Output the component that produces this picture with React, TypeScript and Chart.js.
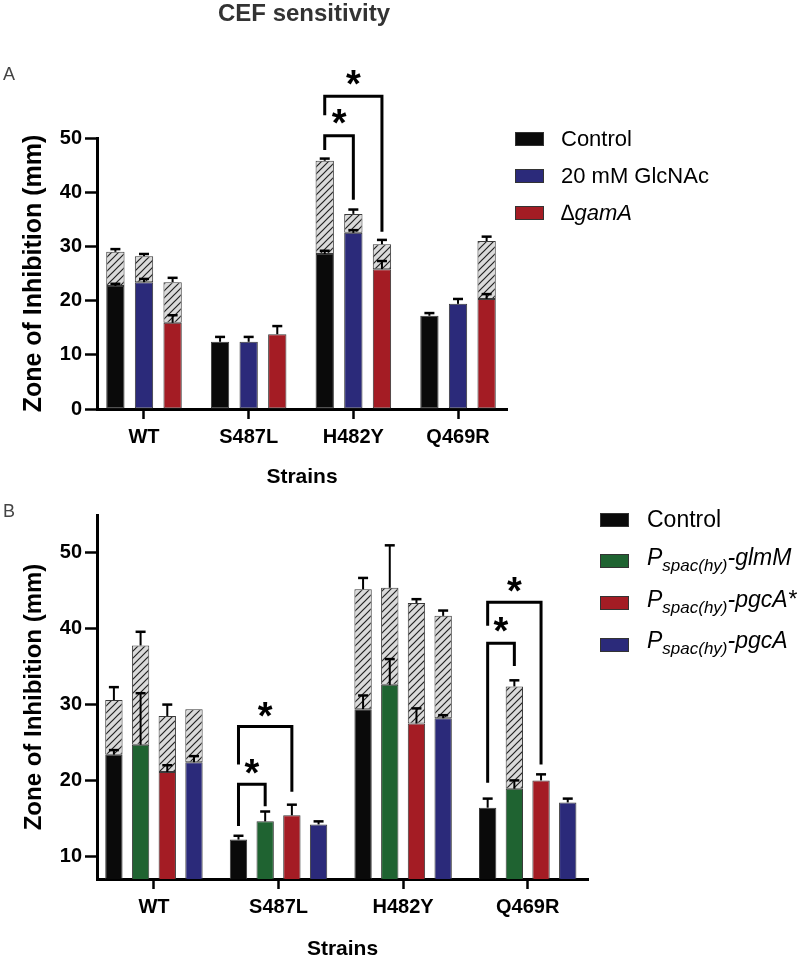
import React, { useEffect, useRef } from 'react';
import { Chart, registerables } from 'chart.js';

Chart.register(...registerables);

const FONT = '"Liberation Sans", Arial, Helvetica, sans-serif';

// ---------- Panel A data ----------
const strainsA = ['WT', 'S487L', 'H482Y', 'Q469R'];
const seriesA = ['Control', '20 mM GlcNAc', '\u2206gamA'];
const italicA = [false, false, true];
const colorsA = ['#0a0a0a', '#2b2a7a', '#a41c24'];

const aControlBase = [22.7, 12.4, 28.6, 17.2];
const aControlTotal = [29.0, null, 45.8, null];
const aControlBaseErr = [0.4, 0.9, 0.6, 0.5];
const aControlTotalErr = [0.5, null, 0.4, null];

const aGlcBase = [23.4, 12.4, 32.5, 19.4];
const aGlcTotal = [28.2, null, 36.0, null];
const aGlcBaseErr = [0.6, 0.9, 0.5, 0.9];
const aGlcTotalErr = [0.4, null, 0.8, null];

const aGamBase = [15.9, 13.8, 25.8, 20.3];
const aGamTotal = [23.4, null, 30.4, 31.0];
const aGamBaseErr = [1.4, 1.5, 1.5, 0.9];
const aGamTotalErr = [0.8, null, 0.8, 0.8];

const ticksA = [0, 10, 20, 30, 40, 50];

// brackets: category index, from/to series index, y-values (data units)
const bracketsA = [
  { cat: 2, from: 0, to: 1, top: 50.4, leftEnd: 47.8, rightEnd: 38.6, star: 53.9 },
  { cat: 2, from: 0, to: 2, top: 57.7, leftEnd: 54.2, rightEnd: 32.7, star: 61.1 },
];

// ---------- Panel B data ----------
const strainsB = ['WT', 'S487L', 'H482Y', 'Q469R'];
const seriesB = [
  { main: 'Control', sub: '', rest: '', italic: false },
  { main: 'P', sub: 'spac(hy)', rest: '-glmM', italic: true },
  { main: 'P', sub: 'spac(hy)', rest: '-pgcA*', italic: true },
  { main: 'P', sub: 'spac(hy)', rest: '-pgcA', italic: true },
];
const colorsB = ['#0a0a0a', '#1f6331', '#a41c24', '#2b2a7a'];

const bControlBase = [23.4, 12.2, 29.4, 16.4];
const bControlTotal = [30.6, null, 45.2, null];
const bControlBaseErr = [0.6, 0.5, 1.8, 1.2];
const bControlTotalErr = [1.7, null, 1.5, null];

const bGlmBase = [24.7, 14.6, 32.6, 18.9];
const bGlmTotal = [37.8, null, 45.4, 32.4];
const bGlmBaseErr = [6.8, 1.3, 3.4, 1.1];
const bGlmTotalErr = [1.8, null, 5.6, 0.8];

const bPgcStarBase = [21.1, 15.4, 27.5, 20.0];
const bPgcStarTotal = [28.5, null, 43.4, null];
const bPgcStarBaseErr = [0.9, 1.4, 2.0, 0.8];
const bPgcStarTotalErr = [1.5, null, 0.5, null];

const bPgcBase = [22.4, 14.2, 28.2, 17.1];
const bPgcTotal = [29.4, null, 41.7, null];
const bPgcBaseErr = [0.8, 0.4, 0.4, 0.5];
const bPgcTotalErr = [0, null, 0.7, null];

const ticksB = [10, 20, 30, 40, 50];

const bracketsB = [
  { cat: 1, from: 0, to: 1, top: 19.5, leftEnd: 14.0, rightEnd: 16.6, star: 21.9 },
  { cat: 1, from: 0, to: 2, top: 27.1, leftEnd: 22.1, rightEnd: 18.5, star: 29.4 },
  { cat: 3, from: 0, to: 1, top: 38.1, leftEnd: 19.7, rightEnd: 35.1, star: 40.6 },
  { cat: 3, from: 0, to: 2, top: 43.5, leftEnd: 40.4, rightEnd: 22.1, star: 45.9 },
];

// ---------- helpers ----------
function makeHatch(): any {
  const s = 7;
  const c = document.createElement('canvas');
  c.width = s;
  c.height = s;
  const g = c.getContext('2d')!;
  g.fillStyle = '#dadada';
  g.fillRect(0, 0, s, s);
  g.strokeStyle = '#222';
  g.lineWidth = 1.2;
  g.beginPath();
  g.moveTo(-1, s + 1);
  g.lineTo(s + 1, -1);
  g.moveTo(-1, 1);
  g.lineTo(1, -1);
  g.moveTo(s - 1, s + 1);
  g.lineTo(s + 1, s - 1);
  g.stroke();
  return g.createPattern(c, 'repeat');
}

function buildDatasets(
  labels: string[],
  colors: string[],
  bases: number[][],
  totals: (number | null)[][],
  baseErrs: (number | null)[][],
  totalErrs: (number | null)[][],
  hatch: any
) {
  const ds: any[] = [];
  labels.forEach((lab, k) => {
    ds.push({
      label: lab,
      stack: 's' + k,
      data: bases[k],
      backgroundColor: colors[k],
      borderColor: '#3a3a3a',
      borderWidth: 1,
      borderSkipped: false,
      errors: baseErrs[k],
      tops: bases[k],
    });
    ds.push({
      label: lab + ' (hatched)',
      stack: 's' + k,
      data: totals[k].map((t, i) => (t == null ? null : t - bases[k][i])),
      backgroundColor: hatch,
      borderColor: '#3a3a3a',
      borderWidth: 1,
      borderSkipped: false,
      errors: totalErrs[k],
      tops: totals[k],
    });
  });
  return ds;
}

const errorBarPlugin = {
  id: 'errorBars',
  afterDatasetsDraw(chart: any) {
    const ctx = chart.ctx;
    const ys = chart.scales.y;
    chart.data.datasets.forEach((ds: any, di: number) => {
      if (!ds.errors) return;
      const meta = chart.getDatasetMeta(di);
      meta.data.forEach((bar: any, i: number) => {
        const e = ds.errors[i];
        const t = ds.tops[i];
        if (e == null || t == null || e <= 0 || ds.data[i] == null) return;
        const x = bar.x;
        const y0 = ys.getPixelForValue(t);
        const y1 = ys.getPixelForValue(t + e);
        ctx.save();
        ctx.strokeStyle = '#000';
        ctx.lineWidth = 2;
        ctx.beginPath();
        ctx.moveTo(x, y0);
        ctx.lineTo(x, y1);
        ctx.stroke();
        ctx.lineWidth = 2.5;
        ctx.beginPath();
        ctx.moveTo(x - 5, y1);
        ctx.lineTo(x + 5, y1);
        ctx.stroke();
        ctx.restore();
      });
    });
  },
};

function makeBracketPlugin(items: any[], nPer: number) {
  return {
    id: 'brackets',
    afterDraw(chart: any) {
      const ctx = chart.ctx;
      const ys = chart.scales.y;
      items.forEach((b) => {
        const xL = chart.getDatasetMeta(b.from * nPer).data[b.cat].x;
        const xR = chart.getDatasetMeta(b.to * nPer).data[b.cat].x;
        const yT = ys.getPixelForValue(b.top);
        ctx.save();
        ctx.strokeStyle = '#000';
        ctx.lineWidth = 3;
        ctx.lineJoin = 'miter';
        ctx.lineCap = 'butt';
        ctx.beginPath();
        ctx.moveTo(xL, ys.getPixelForValue(b.leftEnd));
        ctx.lineTo(xL, yT);
        ctx.lineTo(xR, yT);
        ctx.lineTo(xR, ys.getPixelForValue(b.rightEnd));
        ctx.stroke();
        ctx.font = `bold 38px ${FONT}`;
        ctx.fillStyle = '#000';
        ctx.textAlign = 'center';
        ctx.textBaseline = 'alphabetic';
        const m = ctx.measureText('*');
        const yc = ys.getPixelForValue(b.star);
        ctx.fillText('*', (xL + xR) / 2, yc + (m.actualBoundingBoxAscent - m.actualBoundingBoxDescent) / 2);
        ctx.restore();
      });
    },
  };
}

function makeConfig(opts: {
  labels: string[];
  datasets: any[];
  yMin: number;
  yMax: number;
  yTicks: number[];
  yTitleSize: number;
  yTitlePad: number;
  padding: any;
  xHeight: number;
  startPad: number;
  endPad: number;
  catPct: number;
  barPct: number;
  brackets: any[];
}): any {
  return {
    type: 'bar',
    data: { labels: opts.labels, datasets: opts.datasets },
    options: {
      responsive: false,
      animation: false,
      devicePixelRatio: 1,
      layout: { padding: opts.padding },
      datasets: { bar: { categoryPercentage: opts.catPct, barPercentage: opts.barPct } },
      plugins: { legend: { display: false }, tooltip: { enabled: false } },
      scales: {
        x: {
          type: 'category',
          offset: true,
          grid: {
            offset: false,
            drawOnChartArea: false,
            drawTicks: true,
            tickLength: 10,
            tickColor: '#000',
            tickWidth: 2.5,
          },
          border: { display: true, color: '#000', width: 3 },
          ticks: {
            color: '#000',
            font: { family: FONT, size: 20, weight: 'bold' },
            padding: 6,
            maxRotation: 0,
            autoSkip: false,
          },
          title: {
            display: true,
            text: 'Strains',
            color: '#000',
            font: { family: FONT, size: 21, weight: 'bold' },
            padding: { top: 0, bottom: 0 },
          },
          afterFit: (s: any) => {
            s.height = opts.xHeight;
          },
          afterBuildTicks: (s: any) => {
            s._startValue = s.min - opts.startPad;
            s._valueRange = s.max - s.min + opts.startPad + opts.endPad;
          },
        },
        y: {
          stacked: true,
          min: opts.yMin,
          max: opts.yMax,
          afterBuildTicks: (s: any) => {
            s.ticks = opts.yTicks.map((v) => ({ value: v }));
          },
          grid: {
            drawOnChartArea: false,
            drawTicks: true,
            tickLength: 12,
            tickColor: '#000',
            tickWidth: 2.5,
          },
          border: { display: true, color: '#000', width: 3 },
          ticks: {
            color: '#000',
            font: { family: FONT, size: 20, weight: 'bold' },
            padding: 3,
            includeBounds: false,
          },
          title: {
            display: true,
            text: 'Zone of Inhibition (mm)',
            color: '#000',
            font: { family: FONT, size: opts.yTitleSize, weight: 'bold' },
            padding: { top: opts.yTitlePad, bottom: 0 },
          },
          afterFit: (s: any) => {
            s.width = 97;
          },
        },
      },
    },
    plugins: [errorBarPlugin, makeBracketPlugin(opts.brackets, 2)],
  };
}

function LegendBox({ color }: { color: string }) {
  return (
    <div
      style={{
        width: 29,
        height: 14,
        boxSizing: 'border-box',
        border: '1px solid #333',
        background: color,
        flex: '0 0 auto',
      }}
    />
  );
}

export default function App() {
  const refA = useRef<HTMLCanvasElement>(null);
  const refB = useRef<HTMLCanvasElement>(null);

  useEffect(() => {
    const hatch = makeHatch();
    const dsA = buildDatasets(
      seriesA,
      colorsA,
      [aControlBase, aGlcBase, aGamBase],
      [aControlTotal, aGlcTotal, aGamTotal],
      [aControlBaseErr, aGlcBaseErr, aGamBaseErr],
      [aControlTotalErr, aGlcTotalErr, aGamTotalErr],
      hatch
    );
    const dsB = buildDatasets(
      seriesB.map((s) => s.main + s.sub + s.rest),
      colorsB,
      [bControlBase, bGlmBase, bPgcStarBase, bPgcBase],
      [bControlTotal, bGlmTotal, bPgcStarTotal, bPgcTotal],
      [bControlBaseErr, bGlmBaseErr, bPgcStarBaseErr, bPgcBaseErr],
      [bControlTotalErr, bGlmTotalErr, bPgcStarTotalErr, bPgcTotalErr],
      hatch
    );
    const a = new Chart(
      refA.current!,
      makeConfig({
        labels: strainsA,
        datasets: dsA,
        yMin: 0,
        yMax: 50,
        yTicks: ticksA,
        yTitleSize: 25,
        yTitlePad: 19,
        padding: { top: 138, left: 0, right: 293, bottom: 0 },
        xHeight: 81,
        startPad: 0.449,
        endPad: 0.468,
        catPct: 0.82,
        barPct: 0.64,
        brackets: bracketsA,
      })
    );
    const b = new Chart(
      refB.current!,
      makeConfig({
        labels: strainsB,
        datasets: dsB,
        yMin: 7,
        yMax: 55,
        yTicks: ticksB,
        yTitleSize: 24,
        yTitlePad: 19.6,
        padding: { top: 25, left: 0, right: 212, bottom: 0 },
        xHeight: 83,
        startPad: 0.457,
        endPad: 0.484,
        catPct: 0.857,
        barPct: 0.65,
        brackets: bracketsB,
      })
    );
    return () => {
      a.destroy();
      b.destroy();
    };
  }, []);

  const legendAStart = 138.8;
  const legendAStep = 37.3;
  const legendBStart = 519.5;
  const legendBStep = 41.8;

  return (
    <div
      style={{
        position: 'absolute',
        left: 0,
        top: 0,
        width: 800,
        height: 962,
        background: '#fff',
        fontFamily: FONT,
        overflow: 'hidden',
      }}
    >
      <canvas
        ref={refA}
        width={800}
        height={490}
        style={{ position: 'absolute', left: 0, top: 0, width: 800, height: 490, display: 'block' }}
      />
      <canvas
        ref={refB}
        width={800}
        height={472}
        style={{ position: 'absolute', left: 0, top: 490, width: 800, height: 472, display: 'block' }}
      />
      <div
        style={{
          position: 'absolute',
          left: 218,
          top: 1,
          fontSize: 24,
          lineHeight: '24px',
          fontWeight: 'bold',
          color: '#333',
          whiteSpace: 'nowrap',
        }}
      >
        CEF sensitivity
      </div>
      <div style={{ position: 'absolute', left: 3, top: 65, fontSize: 18, lineHeight: '18px', color: '#444' }}>A</div>
      <div style={{ position: 'absolute', left: 3, top: 502, fontSize: 18, lineHeight: '18px', color: '#444' }}>B</div>

      {seriesA.map((name, k) => (
        <div
          key={'la' + k}
          style={{
            position: 'absolute',
            left: 515,
            top: legendAStart + k * legendAStep - 15,
            height: 30,
            display: 'flex',
            alignItems: 'center',
            whiteSpace: 'nowrap',
          }}
        >
          <LegendBox color={colorsA[k]} />
          <span
            style={{
              marginLeft: 17,
              fontSize: 22,
              lineHeight: '22px',
              color: '#000',
              fontStyle: italicA[k] ? 'italic' : 'normal',
            }}
          >
            {name}
          </span>
        </div>
      ))}

      {seriesB.map((s, k) => (
        <div
          key={'lb' + k}
          style={{
            position: 'absolute',
            left: 600,
            top: legendBStart + k * legendBStep - 15,
            height: 30,
            display: 'flex',
            alignItems: 'center',
            whiteSpace: 'nowrap',
          }}
        >
          <LegendBox color={colorsB[k]} />
          <span
            style={{
              marginLeft: 18,
              fontSize: 23,
              lineHeight: '23px',
              color: '#000',
              fontStyle: s.italic ? 'italic' : 'normal',
            }}
          >
            {s.main}
            {s.sub ? <span style={{ fontSize: 17, verticalAlign: -6 }}>{s.sub}</span> : null}
            {s.rest}
          </span>
        </div>
      ))}
    </div>
  );
}
